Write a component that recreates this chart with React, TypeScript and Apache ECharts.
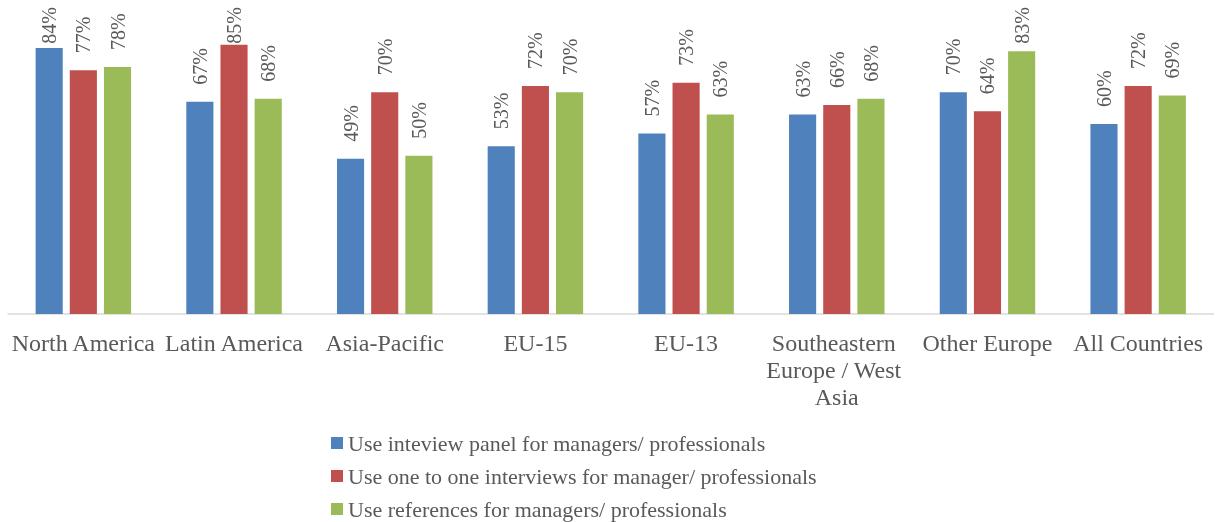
import React, { useEffect, useRef } from "react";
import * as echarts from "echarts";

const categories = [
  "North America",
  "Latin America",
  "Asia-Pacific",
  "EU-15",
  "EU-13",
  "Southeastern Europe / West Asia",
  "Other Europe",
  "All Countries",
];
const seriesNames = [
  "Use inteview panel for managers/ professionals",
  "Use one to one interviews for manager/ professionals",
  "Use references for managers/ professionals",
];
const panel = [84, 67, 49, 53, 57, 63, 70, 60];
const oneToOne = [77, 85, 70, 72, 73, 66, 64, 72];
const references = [78, 68, 50, 70, 63, 68, 83, 69];
const colors = ["#4F81BD", "#C0504D", "#9BBB59"];

const FONT = "'Liberation Serif', 'Times New Roman', serif";
const TEXT = "#595959";

export default function App() {
  const ref = useRef<HTMLDivElement>(null);
  useEffect(() => {
    if (!ref.current) return;
    const chart = echarts.init(ref.current, undefined, { renderer: "svg" });
    const data = [panel, oneToOne, references];
    chart.setOption({
      animation: false,
      textStyle: { fontFamily: FONT },
      grid: { left: 8, right: 0, top: 29, bottom: 208, containLabel: false },
      legend: {
        orient: "vertical",
        left: 331,
        top: 432,
        height: 90,
        padding: 0,
        itemWidth: 12,
        itemHeight: 12,
        itemGap: 11,
        icon: "rect",
        formatter: (n: string) => `{t|${n}}`,
        textStyle: {
          rich: { t: { fontFamily: FONT, fontSize: 22, color: TEXT } },
        },
        data: seriesNames,
      },
      xAxis: {
        type: "category",
        data: categories,
        axisLine: { lineStyle: { color: "#D9D9D9", width: 1.5 } },
        axisTick: { show: false },
        axisLabel: {
          interval: 0,
          fontFamily: FONT,
          fontSize: 24,
          color: TEXT,
          margin: 15,
          width: 150,
          overflow: "break",
          lineHeight: 27,
        },
      },
      yAxis: {
        type: "value",
        min: 0,
        max: 90,
        show: false,
        splitLine: { show: false },
      },
      labelLayout: (p: any) => {
        const r = p.labelRect;
        if (r && r.y < 7) {
          return { y: 7 + r.height };
        }
        return {};
      },
      series: seriesNames.map((name, i) => ({
        name,
        type: "bar",
        data: data[i],
        barWidth: "18%",
        barGap: "26%",
        itemStyle: { color: colors[i] },
        label: {
          show: true,
          position: "top",
          rotate: 90,
          align: "left",
          verticalAlign: "middle",
          distance: 17,
          formatter: "{v|{c}%}",
          rich: { v: { fontFamily: FONT, fontSize: 20, color: TEXT } },
        },
      })),
    });
    return () => chart.dispose();
  }, []);
  return (
    <div
      ref={ref}
      style={{ position: "fixed", left: 0, top: 0, width: 1216, height: 522 }}
    />
  );
}
